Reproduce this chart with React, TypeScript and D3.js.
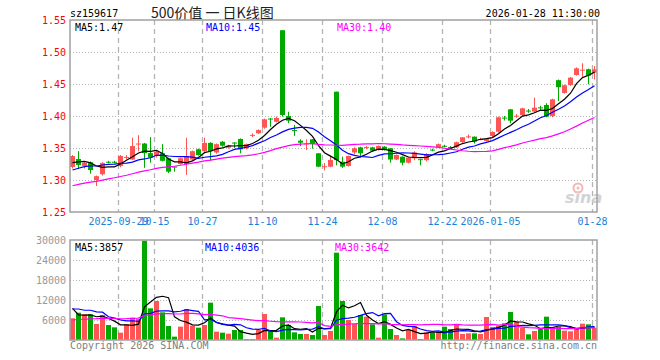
import React from "react";
import * as d3 from "d3";

// ---- data ----
const dates = [
  "2025-09-17","2025-09-18","2025-09-19","2025-09-22","2025-09-23","2025-09-24","2025-09-25","2025-09-26","2025-09-29","2025-09-30",
  "2025-10-09","2025-10-10","2025-10-13","2025-10-14","2025-10-15","2025-10-16","2025-10-17","2025-10-20","2025-10-21","2025-10-22",
  "2025-10-23","2025-10-24","2025-10-27","2025-10-28","2025-10-29","2025-10-30","2025-10-31",
  "2025-11-03","2025-11-04","2025-11-05","2025-11-06","2025-11-07","2025-11-10","2025-11-11","2025-11-12","2025-11-13","2025-11-14",
  "2025-11-17","2025-11-18","2025-11-19","2025-11-20","2025-11-21","2025-11-24","2025-11-25","2025-11-26","2025-11-27","2025-11-28",
  "2025-12-01","2025-12-02","2025-12-03","2025-12-04","2025-12-05","2025-12-08","2025-12-09","2025-12-10","2025-12-11","2025-12-12",
  "2025-12-15","2025-12-16","2025-12-17","2025-12-18","2025-12-19","2025-12-22","2025-12-23","2025-12-24","2025-12-25","2025-12-26",
  "2025-12-29","2025-12-30","2025-12-31",
  "2026-01-05","2026-01-06","2026-01-07","2026-01-08","2026-01-09","2026-01-12","2026-01-13","2026-01-14","2026-01-15","2026-01-16",
  "2026-01-19","2026-01-20","2026-01-21","2026-01-22","2026-01-23","2026-01-26","2026-01-27","2026-01-28",
];

const open = [
  1.3203,1.3328,1.322,1.3277,1.300,1.309,1.3285,1.3285,1.322,1.335,
  1.332,1.356,1.357,1.342,1.3375,1.3417,1.334,1.321,1.325,1.325,
  1.332,1.348,1.345,1.358,1.343,1.3598,1.3505,1.3585,1.364,1.3495,
  1.3695,1.373,1.3817,1.396,1.391,1.534,1.400,1.378,1.3614,1.356,
  1.3636,1.3417,1.320,1.3208,1.438,1.3286,1.3219,1.343,1.351,1.3505,
  1.351,1.3469,1.352,1.3495,1.332,1.3364,1.327,1.334,1.3325,1.331,
  1.3475,1.351,1.3535,1.3515,1.351,1.3594,1.3672,1.3677,1.3631,1.361,
  1.3688,1.3755,1.3975,1.4104,1.3995,1.4016,1.4085,1.407,1.4135,1.4172,
  1.400,1.456,1.436,1.4484,1.4641,1.4714,1.473,1.4677,
];
const high = [
  1.339,1.345,1.329,1.329,1.307,1.328,1.330,1.330,1.339,1.339,
  1.366,1.370,1.358,1.367,1.346,1.356,1.335,1.321,1.335,1.366,
  1.346,1.349,1.366,1.359,1.357,1.361,1.355,1.359,1.365,1.357,
  1.373,1.379,1.396,1.397,1.399,1.534,1.4067,1.386,1.3636,1.3636,
  1.364,1.342,1.3265,1.3375,1.438,1.3365,1.338,1.351,1.352,1.353,
  1.352,1.354,1.353,1.350,1.340,1.337,1.336,1.345,1.333,1.342,
  1.349,1.357,1.355,1.353,1.360,1.367,1.371,1.368,1.366,1.365,
  1.376,1.399,1.400,1.411,1.403,1.413,1.411,1.4286,1.416,1.420,
  1.427,1.457,1.449,1.461,1.476,1.4823,1.474,1.478,
];
const low = [
  1.318,1.317,1.318,1.310,1.2906,1.307,1.326,1.326,1.320,1.332,
  1.331,1.345,1.319,1.327,1.335,1.329,1.311,1.313,1.324,1.308,
  1.331,1.338,1.344,1.330,1.341,1.352,1.349,1.350,1.3417,1.348,
  1.367,1.372,1.380,1.383,1.390,1.399,1.3886,1.369,1.353,1.347,
  1.349,1.320,1.315,1.320,1.323,1.319,1.321,1.340,1.3354,1.348,
  1.345,1.346,1.346,1.327,1.331,1.323,1.326,1.331,1.323,1.329,
  1.345,1.350,1.351,1.349,1.350,1.358,1.365,1.357,1.362,1.360,
  1.367,1.374,1.393,1.3886,1.397,1.400,1.405,1.406,1.410,1.398,
  1.398,1.4234,1.435,1.447,1.463,1.4614,1.4495,1.457,
];
const close = [
  1.3375,1.3234,1.327,1.3156,1.306,1.3266,1.3275,1.3275,1.3375,1.336,
  1.353,1.357,1.342,1.335,1.344,1.330,1.313,1.320,1.334,1.3375,
  1.345,1.339,1.358,1.345,1.356,1.3536,1.3536,1.3575,1.348,1.356,
  1.3705,1.378,1.3948,1.395,1.397,1.4016,1.3927,1.377,1.3583,1.357,
  1.356,1.3208,1.3215,1.3313,1.331,1.3208,1.3375,1.3495,1.3417,1.3515,
  1.3458,1.3531,1.3469,1.332,1.339,1.327,1.335,1.343,1.3315,1.3406,
  1.3465,1.356,1.3525,1.3505,1.359,1.3667,1.3682,1.360,1.3641,1.364,
  1.375,1.398,1.3965,1.3927,1.4005,1.412,1.4075,1.413,1.4125,1.399,
  1.426,1.445,1.448,1.4599,1.4745,1.4724,1.463,1.473,
];
const volume = [
  6500,8200,7700,7700,4800,7500,4500,3800,2200,4700,
  6700,6300,29800,9500,11700,8300,4200,1000,4000,9300,
  4300,3700,4500,11200,2500,2200,1900,3000,3000,300,
  300,3000,7800,2700,700,6800,4500,2300,1800,1800,
  1500,10200,1500,2700,26200,11700,6000,4800,7500,7000,
  4700,700,7700,3300,1500,500,3000,4200,300,2300,
  2200,2300,4000,3300,4700,1800,2000,2000,1800,6900,
  3900,4400,5000,8400,5500,3700,1700,2700,3375,7000,
  3900,4000,2800,2600,3400,4900,4700,3685,
];
// closes / volumes before the visible window (estimated so the MA lines start where the reference shows)
const priorCloses = [
  1.262,1.265,1.268,1.270,1.272,1.270,1.274,1.276,1.279,1.281,
  1.280,1.283,1.285,1.282,1.284,1.287,1.289,1.288,1.290,1.291,
  1.296,1.300,1.305,1.308,1.311,
  1.318,1.322,1.328,1.330,
];
const priorVolumes = [
  3800,5200,4100,3600,4900,4400,3900,5100,4200,4600,
  3700,4800,4300,4000,5000,4500,3900,4700,4200,4100,
  8200,11500,7600,9800,8400,
  18200,7900,7400,7500,
];

const tickDates = ["2025-09-29","2025-10-15","2025-10-27","2025-11-10","2025-11-24","2025-12-08","2025-12-22","2026-01-05","2026-01-28"];
const tickLabels = ["2025-09-29","10-15","10-27","11-10","11-24","12-08","12-22","2026-01-05","01-28"];
const priceTicks = [1.25, 1.30, 1.35, 1.40, 1.45, 1.50, 1.55];
const volumeTicks = [6000, 12000, 18000, 24000, 30000];
const maPeriods = [5, 10, 30];
const maColors = ["#000000", "#0000ff", "#ff00ff"];

const MONO = "'DejaVu Sans Mono', monospace";
const RED = "#ff5555";
const GREEN = "#00a800";

function movingAverage(prior: number[], values: number[], n: number): number[] {
  const all = prior.concat(values);
  const off = prior.length;
  return values.map((_, i) => d3.mean(all.slice(off + i - n + 1, off + i + 1)) as number);
}

export default function App() {
  const W = 660, H = 360;
  const left = 70, right = 597;
  const pTop = 20, pBottom = 212;
  const vTop = 240, vBottom = 340;
  const n = dates.length;

  const x = d3.scaleLinear().domain([0, n]).range([left, left + 6 * n]);
  const step = x(1) - x(0);
  const bw = step - 1;
  const cx = (i: number) => x(i) + bw / 2;
  const y = d3.scaleLinear().domain([1.25, 1.55]).range([pBottom, pTop]);
  const yv = d3.scaleLinear().domain([0, 30000]).range([vBottom, vTop]);

  const priceMA = maPeriods.map((p) => movingAverage(priorCloses, close, p));
  const volMA = maPeriods.map((p) => movingAverage(priorVolumes, volume, p));

  const linePrice = d3.line<number>().x((_, i) => cx(i)).y((d) => y(d));
  const lineVol = d3.line<number>().x((_, i) => cx(i)).y((d) => yv(d));

  const tickIdx = tickDates.map((d) => dates.indexOf(d));
  const up = (i: number) => close[i] >= open[i];

  const grid = "#b4b4b4";
  const border = "#a0a0a0";

  return (
    <svg width={W} height={H} style={{ position: "absolute", left: 0, top: 0, background: "#fff" }}>
      <rect x={0} y={0} width={W} height={H} fill="#fff" />
      {/* header */}
      <text x={70} y={17} fontFamily={MONO} fontSize={10} fill="#000">sz159617</text>
      <text x={151} y={18} fontFamily="'Noto Sans CJK SC', sans-serif" fontSize={14} fill="#222">500价值 一 日K线图</text>
      <text x={600} y={17} textAnchor="end" fontFamily={MONO} fontSize={10} fill="#000">2026-01-28 11:30:00</text>

      {/* price grid */}
      {priceTicks.slice(1, -1).map((t) => (
        <line key={"pg" + t} x1={left} x2={right} y1={Math.round(y(t)) + 0.5} y2={Math.round(y(t)) + 0.5} stroke={grid} strokeDasharray="1,2" />
      ))}
      {tickIdx.map((i, k) => (
        <g key={"vg" + k}>
          <line x1={x(i) + 0.5} x2={x(i) + 0.5} y1={pTop} y2={pBottom} stroke={grid} strokeWidth={1.3} strokeDasharray="5,4" />
          <line x1={x(i) + 0.5} x2={x(i) + 0.5} y1={vTop} y2={vBottom} stroke={grid} strokeWidth={1.3} strokeDasharray="5,4" />
        </g>
      ))}
      {priceTicks.map((t) => (
        <text key={"pl" + t} x={66} y={y(t) + 3.5} textAnchor="end" fontFamily={MONO} fontSize={10} fill="#ff0000">{t.toFixed(2)}</text>
      ))}

      {/* sina watermark */}
      <g opacity={0.9}>
        <circle cx={578} cy={188} r={4.5} fill="none" stroke="#f2b0b0" strokeWidth={2} />
        <circle cx={578} cy={188} r={1.5} fill="#f2b0b0" />
        <text x={565} y={203} fontFamily="'DejaVu Sans', sans-serif" fontSize={16} fontStyle="italic" fontWeight="bold" fill="#cfcfcf">sina</text>
      </g>

      {/* candles */}
      {dates.map((d, i) => {
        const c = up(i) ? RED : GREEN;
        const yTop = y(Math.max(open[i], close[i]));
        const yBot = y(Math.min(open[i], close[i]));
        return (
          <g key={"c" + d}>
            <rect x={x(i) + bw / 2 - 0.5} y={y(high[i])} width={1} height={Math.max(1, y(low[i]) - y(high[i]))} fill={c} />
            <rect x={x(i)} y={yTop} width={bw} height={Math.max(1, yBot - yTop)} fill={c} />
          </g>
        );
      })}
      {priceMA.map((m, k) => (
        <path key={"pm" + k} d={linePrice(m) || ""} fill="none" stroke={maColors[k]} strokeWidth={1.2} />
      ))}

      {/* price frame */}
      <rect x={left} y={pTop} width={right - left} height={pBottom - pTop} fill="none" stroke={border} strokeWidth={1.5} />

      {/* price legend */}
      <text x={75} y={30.5} fontFamily={MONO} fontSize={10} fill="#000">MA5:{priceMA[0][n - 1].toFixed(2)}</text>
      <text x={206} y={30.5} fontFamily={MONO} fontSize={10} fill="#0000ff">MA10:{priceMA[1][n - 1].toFixed(2)}</text>
      <text x={337} y={30.5} fontFamily={MONO} fontSize={10} fill="#ff00ff">MA30:{priceMA[2][n - 1].toFixed(2)}</text>

      {/* x labels */}
      {tickIdx.map((i, k) => (
        <text key={"xl" + k} x={x(i) + 0.5} y={225} textAnchor="middle" fontFamily={MONO} fontSize={10} fill="#1e80d8">{tickLabels[k]}</text>
      ))}

      {/* volume grid */}
      {volumeTicks.slice(0, -1).map((t) => (
        <line key={"vgh" + t} x1={left} x2={right} y1={Math.round(yv(t)) + 0.5} y2={Math.round(yv(t)) + 0.5} stroke={grid} strokeDasharray="1,2" />
      ))}
      {volumeTicks.map((t) => (
        <text key={"vl" + t} x={66} y={yv(t) + 3.5} textAnchor="end" fontFamily={MONO} fontSize={10} fill="#999">{t}</text>
      ))}
      {volume.map((v, i) => (
        <rect key={"v" + i} x={x(i)} y={yv(v)} width={bw} height={vBottom - yv(v)} fill={up(i) ? RED : GREEN} />
      ))}
      {volMA.map((m, k) => (
        <path key={"vm" + k} d={lineVol(m) || ""} fill="none" stroke={maColors[k]} strokeWidth={1.2} />
      ))}
      <rect x={left} y={vTop} width={right - left} height={vBottom - vTop} fill="none" stroke={border} strokeWidth={1.5} />

      <text x={75} y={250.5} fontFamily={MONO} fontSize={10} fill="#000">MA5:{Math.round(volMA[0][n - 1])}</text>
      <text x={205} y={250.5} fontFamily={MONO} fontSize={10} fill="#0000ff">MA10:{Math.round(volMA[1][n - 1])}</text>
      <text x={335} y={250.5} fontFamily={MONO} fontSize={10} fill="#ff00ff">MA30:{Math.round(volMA[2][n - 1])}</text>

      <text x={70} y={349} fontFamily={MONO} fontSize={10} fill="#808080">Copyright 2026 SINA.COM</text>
      <text x={597} y={349} textAnchor="end" fontFamily={MONO} fontSize={10} fill="#808080">http://finance.sina.com.cn</text>
    </svg>
  );
}
